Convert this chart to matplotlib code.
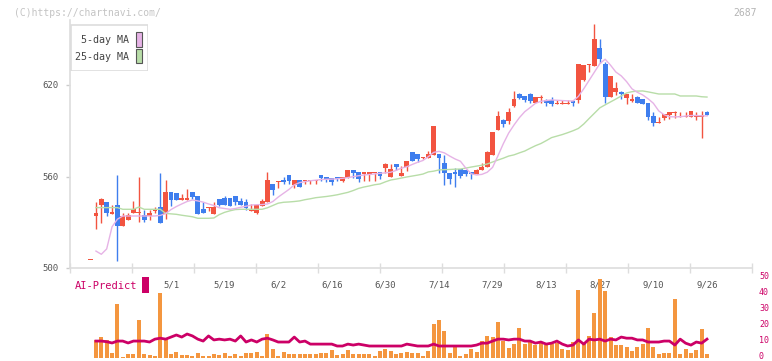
import numpy as np
import matplotlib
matplotlib.use("Agg")
import matplotlib.pyplot as plt
from matplotlib.patches import Rectangle
from matplotlib.transforms import ScaledTranslation

# ---------------- data ----------------
opens = [505.2, 534.3, 541.3, 543.3, 535.6, 541.3, 527.5, 531.5, 536.3, 536.2,
         534.6, 534.3, 537.4, 539.8, 535.6, 549.8, 549.2, 544.6, 544.6, 549.8,
         547.2, 538.7, 539.3, 535.4, 545.2, 545.9, 545.9, 547.2, 543.9, 543.3,
         537.4, 536.1, 540.7, 543.3, 555.1, 556.4, 557.7, 561.0, 554.4, 557.7,
         556.9, 557.0, 557.0, 561.0, 559.7, 559.0, 559.7, 557.0, 559.0, 564.3,
         563.0, 561.6, 561.6, 562.0, 563.0, 565.6, 559.7, 568.2, 560.3, 566.2,
         576.1, 574.8, 572.1, 572.1, 574.1, 574.8, 568.9, 562.3, 563.0, 564.9,
         564.3, 563.0, 561.6, 564.3, 566.2, 574.0, 590.5, 597.0, 596.4, 606.2,
         614.1, 612.8, 614.1, 608.2, 611.2, 610.2, 610.2, 607.5, 607.5, 607.5,
         609.5, 610.2, 623.3, 633.1, 632.5, 644.3, 633.8, 612.1, 615.4, 615.4,
         611.5, 609.5, 612.1, 610.8, 608.2, 599.7, 595.1, 598.4, 600.3, 601.6,
         599.0, 599.0, 599.0, 599.0, 599.2, 602.3]
highs = [505.2, 543.5, 546.1, 543.3, 541.3, 561.0, 535.9, 535.9, 543.9, 559.7,
         538.0, 538.0, 539.8, 562.5, 557.7, 549.8, 549.2, 548.3, 551.8, 549.8,
         547.2, 543.3, 539.8, 543.3, 545.2, 547.2, 545.9, 547.2, 545.9, 545.2,
         542.0, 541.3, 545.2, 563.0, 555.1, 557.0, 559.7, 561.0, 557.7, 557.7,
         557.7, 557.7, 557.7, 561.0, 559.7, 559.0, 559.7, 559.7, 564.3, 564.3,
         563.0, 563.0, 563.0, 562.6, 563.0, 568.9, 568.2, 568.2, 566.9, 570.2,
         576.1, 574.8, 572.8, 576.7, 593.1, 574.8, 574.1, 562.3, 565.6, 564.9,
         564.3, 563.0, 564.9, 568.9, 576.7, 589.2, 603.0, 597.7, 604.9, 616.1,
         614.8, 612.8, 614.8, 612.1, 613.4, 610.8, 612.1, 610.2, 610.2, 610.2,
         610.2, 633.8, 633.1, 633.8, 660.0, 650.2, 635.1, 625.9, 622.0, 616.1,
         614.1, 614.1, 612.8, 610.8, 608.2, 602.3, 599.0, 601.0, 602.3, 603.0,
         602.3, 602.3, 603.0, 602.3, 603.0, 603.0]
lows = [505.2, 525.6, 529.7, 534.3, 535.6, 504.8, 527.5, 531.5, 535.9, 530.4,
        530.4, 531.5, 535.9, 529.7, 532.1, 540.7, 544.6, 544.6, 544.6, 545.2,
        535.4, 536.1, 537.4, 535.4, 540.7, 541.3, 540.7, 541.3, 541.3, 538.0,
        537.4, 535.4, 540.7, 543.3, 547.9, 552.5, 555.1, 555.1, 552.5, 553.1,
        555.1, 555.1, 555.1, 557.0, 556.4, 554.4, 557.0, 556.4, 559.0, 559.0,
        556.4, 557.0, 557.0, 557.0, 558.4, 562.3, 559.7, 564.3, 560.3, 563.6,
        570.2, 569.5, 571.5, 572.1, 574.1, 562.3, 554.4, 555.1, 553.1, 559.0,
        560.3, 558.4, 561.6, 564.3, 566.2, 574.0, 590.5, 592.5, 594.4, 605.6,
        610.8, 608.9, 608.2, 608.2, 608.2, 606.2, 606.2, 607.5, 607.5, 607.5,
        606.2, 608.2, 622.6, 628.5, 632.5, 634.4, 608.2, 612.1, 613.4, 610.8,
        607.5, 608.9, 608.2, 607.5, 597.0, 593.1, 595.1, 597.0, 597.7, 598.4,
        599.0, 599.0, 599.0, 597.0, 585.2, 600.3]
closes = [505.2, 535.9, 545.0, 536.3, 536.9, 527.5, 534.1, 534.8, 538.5, 536.9,
          531.6, 536.3, 538.7, 529.7, 549.8, 544.6, 544.6, 545.9, 545.7, 546.8,
          535.4, 536.1, 539.8, 539.8, 541.3, 541.3, 540.7, 543.3, 541.3, 539.3,
          538.0, 541.3, 543.9, 557.7, 551.1, 557.0, 556.4, 557.0, 557.7, 553.1,
          557.7, 557.7, 557.7, 559.0, 558.4, 556.4, 558.4, 559.7, 564.3, 562.3,
          558.4, 563.0, 563.0, 562.6, 560.3, 568.2, 564.9, 566.2, 562.3, 570.2,
          570.2, 571.5, 572.8, 574.8, 593.1, 572.1, 562.3, 558.4, 561.6, 560.3,
          561.6, 561.6, 564.3, 566.2, 576.1, 589.2, 599.7, 594.4, 602.3, 610.8,
          611.5, 610.2, 609.5, 612.1, 611.8, 608.2, 607.5, 608.2, 608.2, 608.2,
          608.2, 633.8, 633.1, 633.8, 650.2, 637.0, 612.1, 625.9, 618.0, 614.1,
          614.1, 610.8, 608.2, 607.5, 599.0, 595.1, 595.7, 601.0, 602.3, 602.3,
          599.7, 599.7, 603.0, 599.7, 599.8, 600.3]

ma5 = [np.nan, 511.1, 509.0, 512.5, 527.0, 532.0, 534.1, 534.1, 534.1, 534.1,
       534.1, 534.1, 534.1, 534.5, 535.7, 538.3, 540.3, 542.0, 543.6, 544.6,
       544.0, 543.2, 542.0, 541.0, 539.5, 539.0, 538.5, 539.0, 539.8, 540.5,
       541.3, 541.5, 541.6, 542.0, 543.6, 546.5, 549.0, 551.5, 554.5, 556.0,
       556.6, 557.2, 557.6, 558.0, 558.2, 558.3, 558.5, 558.8, 559.3, 559.9,
       560.5, 561.0, 561.3, 561.7, 562.1, 562.4, 562.8, 564.0, 565.5, 566.4,
       567.9, 569.3, 570.5, 573.0, 575.8, 576.5, 575.5, 573.4, 571.5, 570.0,
       565.5, 561.8, 561.0, 561.4, 562.8, 566.0, 573.6, 581.5, 588.5, 593.8,
       598.6, 602.5, 605.2, 608.0, 609.3, 609.8, 610.2, 610.0, 609.8, 609.6,
       609.5, 612.5, 617.5, 623.0, 628.5, 634.0, 636.9, 633.0, 628.5, 626.0,
       622.2, 617.5, 615.2, 613.5, 611.0, 608.0, 603.0, 600.5, 599.2, 599.1,
       599.2, 599.6, 600.0, 600.0, 599.8, 599.7]
ma25 = [np.nan, 539.6, 539.6, 539.6, 539.6, 539.6, 538.5, 538.5, 538.5, 540.0,
        538.5, 538.5, 538.5, 538.5, 535.8, 535.5, 535.2, 534.6, 534.1, 533.6,
        532.6, 532.6, 532.6, 532.8, 535.0, 536.5, 537.5, 538.3, 538.5, 538.5,
        538.5, 538.5, 538.5, 539.5, 541.0, 542.5, 543.1, 543.3, 543.6, 544.0,
        544.8, 545.4, 546.1, 546.5, 546.9, 547.4, 548.0, 548.8, 549.6, 550.8,
        552.2, 553.1, 553.8, 554.6, 555.1, 556.5, 557.7, 558.3, 559.0, 559.7,
        560.3, 560.9, 561.6, 563.0, 563.5, 564.3, 564.5, 564.6, 564.8, 564.9,
        565.5, 566.2, 566.8, 567.4, 568.2, 569.5, 570.8, 572.0, 573.4, 574.2,
        575.5, 576.7, 578.5, 580.2, 581.6, 583.5, 585.5, 586.5, 587.5, 588.7,
        590.0, 591.5, 594.4, 598.0, 601.5, 605.0, 607.0, 608.9, 610.8, 612.8,
        614.8, 615.6, 616.0, 616.1, 615.5, 614.8, 614.1, 614.1, 614.1, 614.1,
        612.8, 612.8, 612.8, 612.8, 612.3, 612.1]

volume = [0, 11.1, 12.9, 11.3, 3.1, 33.6, 0.6, 2.3, 2.3, 23.6,
          2.3, 1.7, 1.3, 40.6, 12.1, 2.3, 3.6, 1.7, 1.7, 0.9,
          3.0, 1.1, 1.1, 2.3, 1.7, 3.1, 1.1, 2.3, 1.1, 3.0,
          3.0, 3.6, 1.1, 14.8, 5.4, 1.1, 3.6, 2.3, 2.3, 2.3,
          2.3, 2.3, 2.3, 3.0, 3.0, 4.9, 1.7, 2.3, 4.9, 2.3,
          2.3, 2.3, 2.3, 1.1, 4.5, 5.4, 4.5, 2.3, 3.0, 3.6,
          3.0, 3.0, 1.1, 4.2, 21.0, 23.5, 16.6, 3.0, 6.7, 1.1,
          2.3, 5.4, 3.6, 10.4, 13.6, 13.0, 22.3, 10.4, 6.0, 8.5,
          18.5, 8.5, 9.8, 7.9, 9.1, 7.9, 8.5, 9.1, 5.4, 4.9,
          9.8, 42.3, 8.5, 13.6, 27.9, 49.2, 41.7, 13.0, 7.9, 7.9,
          6.7, 4.2, 6.7, 8.5, 18.5, 6.7, 2.3, 3.0, 3.0, 36.7,
          2.3, 5.4, 3.0, 4.9, 17.8, 2.3]
ai_predict = [np.nan, 10.4, 10.4, 10.0, 9.2, 10.4, 10.4, 9.2, 10.4, 10.4,
              10.4, 9.8, 11.6, 12.2, 11.6, 12.9, 14.2, 12.9, 14.8, 13.6,
              11.6, 10.4, 13.6, 11.1, 11.6, 11.1, 11.6, 10.4, 13.6, 9.8,
              11.1, 9.8, 11.6, 12.2, 11.1, 9.8, 9.8, 9.8, 12.9, 9.8,
              10.4, 8.5, 8.5, 8.5, 8.5, 8.5, 7.3, 7.3, 8.5, 7.9,
              8.5, 7.9, 7.3, 7.3, 7.3, 7.3, 7.3, 7.3, 7.3, 8.5,
              7.9, 7.3, 7.3, 7.3, 8.5, 7.3, 7.3, 7.3, 7.3, 7.3,
              7.3, 7.3, 7.9, 9.1, 9.1, 10.4, 11.6, 11.6, 11.1, 11.6,
              11.6, 10.4, 10.4, 9.1, 9.8, 8.5, 9.1, 10.4, 8.5, 7.3,
              7.9, 11.1, 8.5, 11.6, 11.1, 11.6, 10.4, 11.6, 11.1, 12.9,
              12.2, 12.2, 11.1, 11.1, 9.8, 9.8, 9.8, 10.4, 10.4, 7.9,
              11.6, 9.1, 7.9, 9.8, 9.1, 11.6]

date_labels = ["5/1", "5/19", "6/2", "6/16", "6/30", "7/14", "7/29",
               "8/13", "8/27", "9/10", "9/26"]
label_index = [15, 25, 35, 45, 55, 65, 75, 85, 95, 105, 115]
y_ticks = [500, 560, 620]
ai_ticks = [0, 10, 20, 30, 40, 50]

# ---------------- style ----------------
RED = "#F25440"
BLUE = "#3F7EEE"
PINK = "#E6B3E6"
GREEN = "#B8DDA8"
ORANGE = "#F4963F"
MAG = "#CC0066"
MONO = "DejaVu Sans Mono"

W, H = 772, 361
fig = plt.figure(figsize=(W / 100, H / 100), dpi=100)

# pixel geometry
px_left, px_right = 70, 752
x0_px, step_px = 90.6, 5.36
xlim = ((px_left - x0_px) / step_px, (px_right - x0_px) / step_px)

main_top, main_bot = 20, 268
ax = fig.add_axes([px_left / W, 1 - main_bot / H, (px_right - px_left) / W,
                   (main_bot - main_top) / H])
ylo = 500
yhi = 500 + (main_bot - main_top) / 1.525
ax.set_xlim(*xlim)
ax.set_ylim(ylo, yhi)

n = len(closes)
idx = np.arange(n)
o = np.array(opens); c = np.array(closes)
h = np.array(highs); l = np.array(lows)
colors = [RED if cc >= oo else BLUE for oo, cc in zip(o, c)]
ax.vlines(idx, l, h, colors=colors, linewidth=1.0, zorder=2)
bottoms = np.minimum(o, c)
heights = np.maximum(np.abs(c - o), 0.8)
ax.bar(idx, heights, bottom=bottoms, width=0.9, color=colors, linewidth=0, zorder=3)

ax.plot(idx, ma25, color=GREEN, lw=1.0, zorder=4)
ax.plot(idx, ma5, color=PINK, lw=1.0, zorder=4)

for s in ["top", "right"]:
    ax.spines[s].set_visible(False)
for s in ["left", "bottom"]:
    ax.spines[s].set_color("#dddddd")
    ax.spines[s].set_linewidth(1.2)

ax.set_yticks(y_ticks)
ax.set_yticklabels([str(v) for v in y_ticks], fontfamily=MONO, fontsize=6.5, color="#555555")
ax.tick_params(axis="y", length=3, width=1, color="#cccccc", pad=5)

ax.set_xticks(label_index)
ax.set_xticklabels(date_labels, fontfamily=MONO, fontsize=6.5, color="#555555")
ax.tick_params(axis="x", which="major", length=0, pad=9)
ax.set_xticks(np.linspace(xlim[0], xlim[1], 12), minor=True)
ax.tick_params(axis="x", which="minor", length=7, width=1, color="#dddddd", direction="inout")

# legend box
lg = fig.add_axes([70 / W, 1 - 71 / H, 78 / W, 47 / H])
lg.set_xlim(0, 78); lg.set_ylim(47, 0)
lg.axis("off")
lg.add_patch(Rectangle((0.5, 0.5), 77, 46, facecolor="white", edgecolor="#dddddd", lw=1.2))
lg.text(59, 16, "5-day MA", ha="right", va="center", fontfamily=MONO, fontsize=7.2, color="#444444")
lg.text(59, 32.5, "25-day MA", ha="right", va="center", fontfamily=MONO, fontsize=7.2, color="#444444")
lg.add_patch(Rectangle((66, 8), 6, 14.5, facecolor=PINK, edgecolor="#555555", lw=0.8))
lg.add_patch(Rectangle((66, 24.5), 6, 14.5, facecolor=GREEN, edgecolor="#555555", lw=0.8))

# watermarks
fig.text(14 / W, 1 - 12.5 / H, "(C)https://chartnavi.com/", fontfamily=MONO, fontsize=7,
         color="#c4c4c4", va="center", ha="left")
fig.text(757 / W, 1 - 12.5 / H, "2687", fontfamily=MONO, fontsize=7,
         color="#b4b4b4", va="center", ha="right")

# volume / AI panel
v_top, v_bot = 277.7, 357.7
vx = fig.add_axes([px_left / W, 1 - v_bot / H, (px_right - px_left) / W, (v_bot - v_top) / H])
vx.set_xlim(*xlim)
vx.set_ylim(0, 50)
vx.bar(idx, volume, width=0.75, color=ORANGE, linewidth=0, zorder=2)
vx.plot(idx, ai_predict, color=MAG, lw=2.0, zorder=3)
for s in vx.spines.values():
    s.set_visible(False)
vx.set_xticks([])
vx.yaxis.tick_right()
vx.set_yticks(ai_ticks)
vx.set_yticklabels([str(v) for v in ai_ticks], fontfamily=MONO, fontsize=6, color=MAG)
vx.tick_params(axis="y", length=0, pad=5)
shift = ScaledTranslation(0, 1.8 / 72, fig.dpi_scale_trans)
for lab in vx.get_yticklabels():
    lab.set_transform(lab.get_transform() + shift)
vx.patch.set_alpha(0)

fig.text(75 / W, 1 - 286 / H, "AI-Predict", fontfamily=MONO, fontsize=7.5, color=MAG,
         va="center", ha="left")
fig.patches.append(Rectangle((142 / W, 1 - 293 / H), 7 / W, 16 / H, transform=fig.transFigure,
                             facecolor=MAG, edgecolor="none"))

fig.savefig("out.png", dpi=100)
